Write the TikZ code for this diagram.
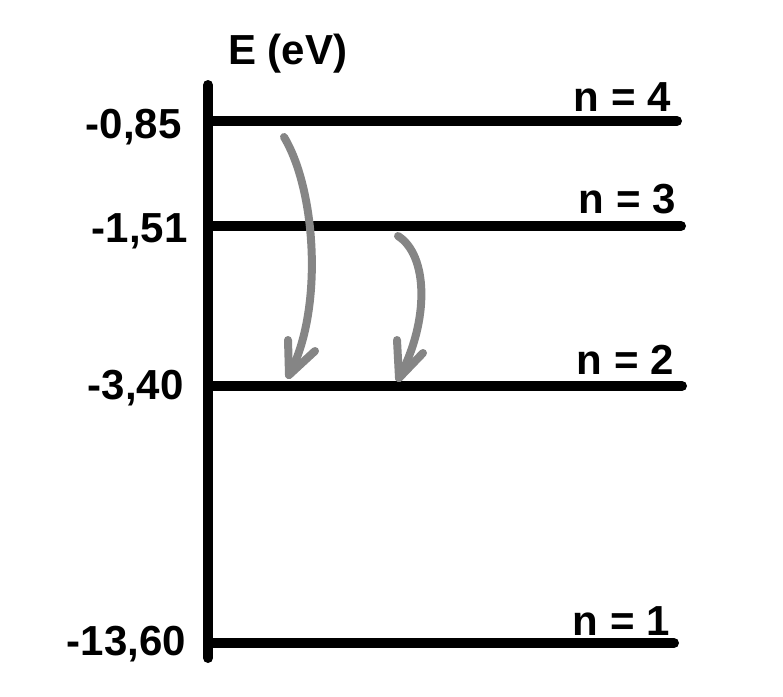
\documentclass[tikz,border=0pt]{standalone}
\usepackage{fontspec}
\setmainfont{Liberation Sans}
\definecolor{arrowgray}{HTML}{858585}
\begin{document}
\begin{tikzpicture}[x=1pt,y=-1pt,
  lvl/.style={line width=10pt,line cap=round,black},
  lbl/.style={inner sep=0pt,font=\fontsize{42}{50}\selectfont\bfseries},
  trans/.style={line width=8pt,line cap=round,line join=round,arrowgray}]
\useasboundingbox (0,0) rectangle (783,696);
% axis
\coordinate (atop) at (208,85);
\coordinate (abot) at (208,658);
\draw[lvl] (atop) -- (abot);
% levels
\coordinate (l4a) at (208,121); \coordinate (l4b) at (677,121);
\coordinate (l3a) at (208,226); \coordinate (l3b) at (681,226);
\coordinate (l2a) at (208,386); \coordinate (l2b) at (682,386);
\coordinate (l1a) at (208,643); \coordinate (l1b) at (674,643);
\draw[lvl] (l4a) -- (l4b);
\draw[lvl] (l3a) -- (l3b);
\draw[lvl] (l2a) -- (l2b);
\draw[lvl] (l1a) -- (l1b);
% labels
\node[lbl,anchor=base west] (title) at (228,64) {E (eV)};
\node[lbl,anchor=base west] (e4) at (85.5,138) {-0,85};
\node[lbl,anchor=base west] (e3) at (91.5,242) {-1,51};
\node[lbl,anchor=base west] (e2) at (87.5,399) {-3,40};
\node[lbl,anchor=base west] (e1) at (66.5,655) {-13,60};
\node[lbl,anchor=base west] (n4) at (573.5,111) {n = 4};
\node[lbl,anchor=base west] (n3) at (578.5,213) {n = 3};
\node[lbl,anchor=base west] (n2) at (576.5,374) {n = 2};
\node[lbl,anchor=base west] (n1) at (572.5,635) {n = 1};
% transitions
\coordinate (t1s) at (284,137);
\coordinate (t1e) at (289,375);
\coordinate (t1l) at (288,340);
\coordinate (t1r) at (315,351);
\draw[trans] (t1s) .. controls (316,190) and (324,310) .. (t1e);
\draw[trans] (t1l) -- (t1e) -- (t1r);
\coordinate (t2s) at (398,236);
\coordinate (t2e) at (399,378);
\coordinate (t2l) at (397,340);
\coordinate (t2r) at (423,353);
\draw[trans] (t2s) .. controls (428,255) and (430,320) .. (t2e);
\draw[trans] (t2l) -- (t2e) -- (t2r);
\end{tikzpicture}
\end{document}
